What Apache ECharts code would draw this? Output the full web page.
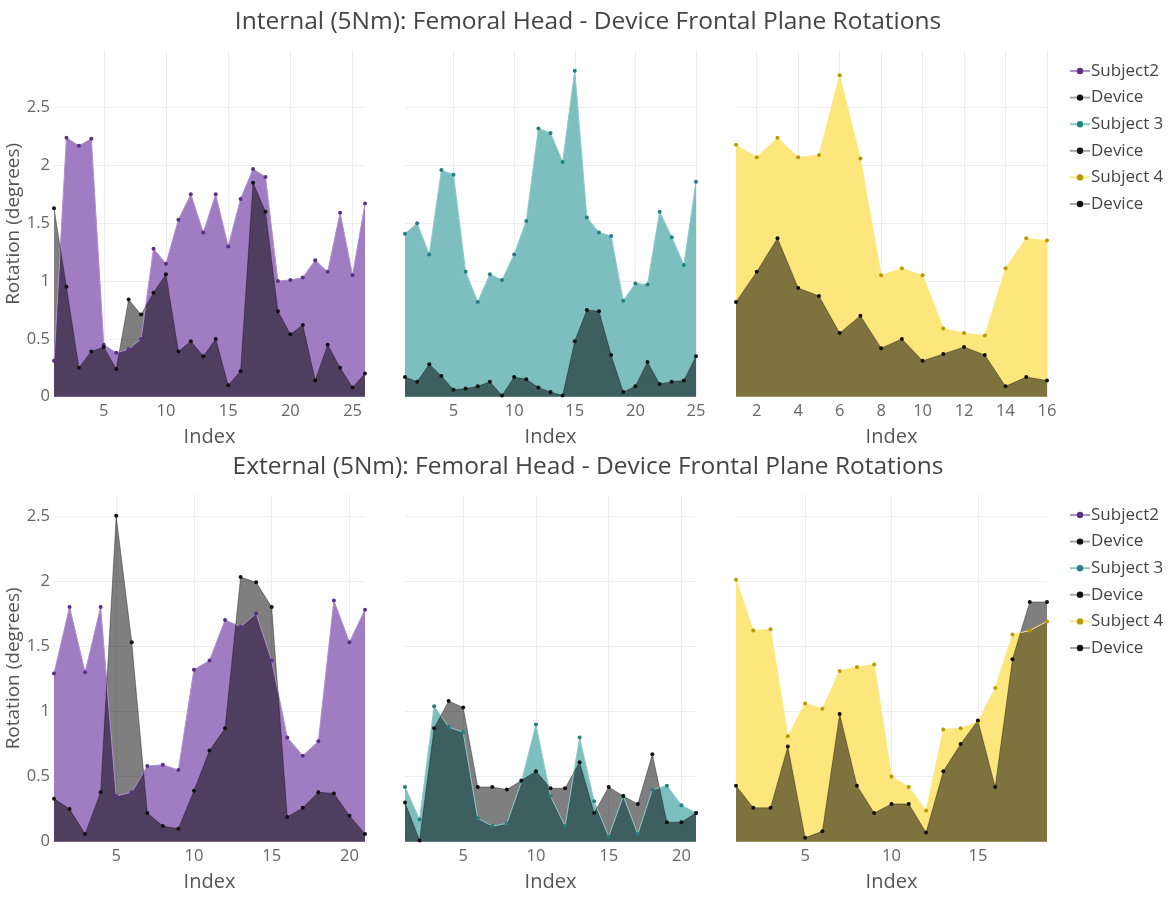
<!DOCTYPE html>
<html>
<head>
<meta charset="utf-8">
<script src="https://cdn.jsdelivr.net/npm/echarts@6/dist/echarts.min.js"></script>
<style>
  html, body { margin: 0; padding: 0; background: #fff; }
  #chart { width: 1176px; height: 899px; }
</style>
</head>
<body>
<div id="chart"></div>
<script>
// Rotation (degrees) per trial index, internal rotation (5Nm)
const subject2Internal = [0.31, 2.24, 2.17, 2.23, 0.45, 0.38, 0.41, 0.50, 1.28, 1.15, 1.53, 1.75, 1.42, 1.75, 1.30, 1.71, 1.97, 1.90, 1.00, 1.01, 1.03, 1.18, 1.08, 1.59, 1.05, 1.67];
const device2Internal  = [1.63, 0.95, 0.25, 0.39, 0.43, 0.24, 0.84, 0.71, 0.90, 1.06, 0.39, 0.48, 0.35, 0.50, 0.10, 0.22, 1.85, 1.60, 0.74, 0.54, 0.62, 0.14, 0.45, 0.25, 0.08, 0.20];
const subject3Internal = [1.41, 1.50, 1.23, 1.96, 1.92, 1.08, 0.82, 1.06, 1.01, 1.23, 1.52, 2.32, 2.28, 2.03, 2.82, 1.55, 1.42, 1.39, 0.83, 0.98, 0.97, 1.60, 1.38, 1.14, 1.86];
const device3Internal  = [0.17, 0.13, 0.28, 0.18, 0.06, 0.07, 0.09, 0.13, 0.01, 0.17, 0.15, 0.08, 0.04, 0.01, 0.48, 0.75, 0.74, 0.36, 0.04, 0.09, 0.30, 0.11, 0.13, 0.14, 0.35];
const subject4Internal = [2.18, 2.07, 2.24, 2.07, 2.09, 2.78, 2.06, 1.05, 1.11, 1.05, 0.59, 0.55, 0.53, 1.11, 1.37, 1.35];
const device4Internal  = [0.82, 1.08, 1.37, 0.94, 0.87, 0.55, 0.70, 0.42, 0.50, 0.31, 0.37, 0.43, 0.36, 0.09, 0.17, 0.14];

// Rotation (degrees) per trial index, external rotation (5Nm)
const subject2External = [1.29, 1.80, 1.30, 1.80, 0.35, 0.38, 0.58, 0.59, 0.55, 1.32, 1.39, 1.70, 1.65, 1.75, 1.39, 0.80, 0.66, 0.77, 1.85, 1.53, 1.78];
const device2External  = [0.33, 0.25, 0.06, 0.38, 2.50, 1.53, 0.22, 0.12, 0.10, 0.39, 0.70, 0.87, 2.03, 1.99, 1.80, 0.19, 0.26, 0.38, 0.37, 0.20, 0.06];
const subject3External = [0.42, 0.17, 1.04, 0.88, 0.84, 0.18, 0.12, 0.14, 0.46, 0.90, 0.35, 0.12, 0.80, 0.31, 0.04, 0.35, 0.06, 0.40, 0.43, 0.28, 0.22];
const device3External  = [0.30, 0.01, 0.87, 1.08, 1.03, 0.42, 0.42, 0.40, 0.47, 0.54, 0.41, 0.41, 0.61, 0.22, 0.42, 0.35, 0.29, 0.67, 0.15, 0.15, 0.22];
const subject4External = [2.01, 1.62, 1.63, 0.81, 1.06, 1.02, 1.31, 1.34, 1.36, 0.50, 0.42, 0.24, 0.86, 0.87, 0.92, 1.18, 1.59, 1.62, 1.69];
const device4External  = [0.43, 0.26, 0.26, 0.73, 0.03, 0.08, 0.98, 0.43, 0.22, 0.29, 0.29, 0.07, 0.54, 0.75, 0.93, 0.42, 1.40, 1.84, 1.84];

// Tick labels on each Index axis
const ticksInternal2 = [5, 10, 15, 20, 25];
const ticksInternal3 = [5, 10, 15, 20, 25];
const ticksInternal4 = [2, 4, 6, 8, 10, 12, 14, 16];
const ticksExternal2 = [5, 10, 15, 20];
const ticksExternal3 = [5, 10, 15, 20];
const ticksExternal4 = [5, 10, 15];

const titleInternal = 'Internal (5Nm): Femoral Head - Device Frontal Plane Rotations';
const titleExternal = 'External (5Nm): Femoral Head - Device Frontal Plane Rotations';
const legendNames = ['Subject2', 'Device-2', 'Subject 3', 'Device-3', 'Subject 4', 'Device-4'];

const FONT = '"Open Sans", "Noto Sans", sans-serif';

const subjectStyle = {
  'Subject2':  { fill: '#a07cc2', line: '#b08fd0', dot: '#5b2f86' },
  'Subject 3': { fill: '#7dbfbf', line: '#8fcaca', dot: '#237f80' },
  'Subject 4': { fill: '#fde67c', line: '#fdea8e', dot: '#b89a00' }
};

const chart = echarts.init(document.getElementById('chart'), null, { renderer: 'canvas' });

// Panel geometry: three columns, two rows
const cols = [
  { left: 54, width: 311 },
  { left: 405, width: 291 },
  { left: 736, width: 311 }
];
const rows = [
  { top: 51, height: 345.7, max: 2.99 },
  { top: 495, height: 346.7, max: 2.66 }
];

const panels = [
  { row: 0, col: 0, subject: 'Subject2',  device: 'Device-2', s: subject2Internal, d: device2Internal, ticks: ticksInternal2 },
  { row: 0, col: 1, subject: 'Subject 3', device: 'Device-3', s: subject3Internal, d: device3Internal, ticks: ticksInternal3 },
  { row: 0, col: 2, subject: 'Subject 4', device: 'Device-4', s: subject4Internal, d: device4Internal, ticks: ticksInternal4 },
  { row: 1, col: 0, subject: 'Subject2',  device: 'Device-2', s: subject2External, d: device2External, ticks: ticksExternal2 },
  { row: 1, col: 1, subject: 'Subject 3', device: 'Device-3', s: subject3External, d: device3External, ticks: ticksExternal3 },
  { row: 1, col: 2, subject: 'Subject 4', device: 'Device-4', s: subject4External, d: device4External, ticks: ticksExternal4 }
];

const toPairs = arr => arr.map((v, i) => [i + 1, v]);

const grid = [], xAxis = [], yAxis = [], series = [];

panels.forEach((p, k) => {
  const r = rows[p.row], c = cols[p.col];
  grid.push({ left: c.left, width: c.width, top: r.top, height: r.height });

  xAxis.push({
    gridIndex: k,
    type: 'value',
    min: 1,
    max: p.s.length,
    name: 'Index',
    nameLocation: 'middle',
    nameGap: 31,
    nameTextStyle: { fontFamily: FONT, fontSize: 20, color: '#555' },
    axisLine: { show: false },
    axisTick: { show: false, customValues: p.ticks },
    axisLabel: { customValues: p.ticks, fontFamily: FONT, fontSize: 16.5, color: '#666', margin: 6 },
    splitLine: { show: true, lineStyle: { color: '#ededed', width: 1 } }
  });

  yAxis.push({
    gridIndex: k,
    type: 'value',
    min: 0,
    max: r.max,
    interval: 0.5,
    name: p.col === 0 ? 'Rotation (degrees)' : '',
    nameLocation: 'middle',
    nameGap: 27,
    nameTextStyle: { fontFamily: FONT, fontSize: 19, color: '#555' },
    axisLine: { show: false },
    axisTick: { show: false },
    axisLabel: {
      show: p.col === 0,
      showMaxLabel: false,
      fontFamily: FONT, fontSize: 16.5, color: '#666', margin: 4
    },
    splitLine: { show: true, showMaxLine: false, showMinLine: false, lineStyle: { color: '#ededed', width: 1 } }
  });

  const st = subjectStyle[p.subject];
  series.push({
    name: p.subject,
    type: 'line',
    xAxisIndex: k,
    yAxisIndex: k,
    data: toPairs(p.s),
    symbol: 'circle',
    symbolSize: 4,
    showAllSymbol: true,
    lineStyle: { color: st.line, width: 1 },
    itemStyle: { color: st.dot },
    areaStyle: { color: st.fill, opacity: 1 },
    emphasis: { disabled: true },
    animation: false
  });
  series.push({
    name: p.device,
    type: 'line',
    xAxisIndex: k,
    yAxisIndex: k,
    data: toPairs(p.d),
    symbol: 'circle',
    symbolSize: 4,
    showAllSymbol: true,
    lineStyle: { color: 'rgba(0,0,0,0.35)', width: 1 },
    itemStyle: { color: '#111' },
    areaStyle: { color: 'rgba(0,0,0,0.5)', opacity: 1 },
    emphasis: { disabled: true },
    animation: false
  });
});

const legendBase = {
  orient: 'vertical',
  left: 1064,
  data: legendNames,
  itemWidth: 20,
  itemHeight: 8,
  itemGap: 8.6,
  selectedMode: false,
  textStyle: { fontFamily: FONT, fontSize: 17, color: '#444', lineHeight: 18, padding: [0, 0, 0, -4] },
  formatter: name => name.split('-')[0]
};

chart.setOption({
  backgroundColor: '#fff',
  animation: false,
  title: [
    { text: titleInternal, left: 'center', top: 5,
      textStyle: { fontFamily: FONT, fontSize: 24.5, fontWeight: 'normal', color: '#444' } },
    { text: titleExternal, left: 'center', top: 450,
      textStyle: { fontFamily: FONT, fontSize: 24.5, fontWeight: 'normal', color: '#444' } }
  ],
  legend: [
    Object.assign({}, legendBase, { top: 57 }),
    Object.assign({}, legendBase, { top: 501 })
  ],
  grid: grid,
  xAxis: xAxis,
  yAxis: yAxis,
  series: series
});
</script>
</body>
</html>
